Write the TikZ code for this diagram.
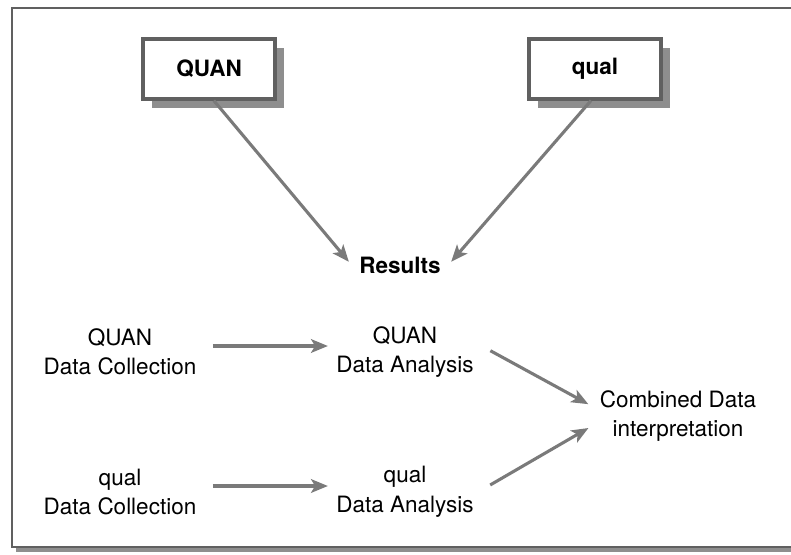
\documentclass[tikz,border=0pt]{standalone}
\usepackage{fontspec}
\setmainfont{TeX Gyre Heros}
\usetikzlibrary{arrows.meta,shadows}
\definecolor{framegray}{HTML}{606060}
\definecolor{shadegray}{HTML}{8E8E8E}
\definecolor{arrowgray}{HTML}{7A7A7A}
\begin{document}
\begin{tikzpicture}[x=0.025cm,y=-0.025cm,font=\fontsize{16}{21}\selectfont]
\tikzstyle{mixbox}=[rectangle,draw=framegray,line width=2.2pt,fill=white,minimum width=3.3cm,minimum height=1.5cm,font=\fontsize{16}{21}\selectfont\bfseries,drop shadow={shadow xshift=0.22cm,shadow yshift=-0.22cm,fill=shadegray,opacity=1}]
\tikzstyle{stage}=[align=center,inner sep=3pt]
\tikzstyle{arr}=[draw=arrowgray,line width=2.2pt,-{Stealth[length=0.42cm,width=0.34cm,inset=0.1cm,fill=arrowgray]}]
\useasboundingbox (0,0) rectangle (791,554);
% outer frame
\fill[shadegray] (16,12) rectangle (805,552);
\draw[framegray,line width=1.5pt,fill=white] (12,8) rectangle (800,547);

\node[mixbox](quan) at (209,69) {QUAN};
\node[mixbox](qual) at (595,69) {qual};
\node[stage,font=\fontsize{16}{21}\selectfont\bfseries](res) at (400,265) {Results};

\node[stage](qc) at (120,352) {QUAN\\Data Collection};
\node[stage](qa) at (405,352) {QUAN\\Data Analysis};
\node[stage](lc) at (120,492) {qual\\Data Collection};
\node[stage](la) at (405,492) {qual\\Data Analysis};
\node[stage](ci) at (678,416) {Combined Data\\interpretation};

\draw[arr] ([xshift=0.12cm]quan.south) -- ([xshift=-0.15cm,yshift=0.08cm]res.west);
\draw[arr] ([xshift=-0.1cm]qual.south) -- ([xshift=0.15cm,yshift=0.08cm]res.east);
\draw[arr,shorten <=0.3cm,shorten >=0.1cm] ([yshift=0.15cm]qc.east) -- ([yshift=0.15cm]qa.west);
\draw[arr,shorten <=0.3cm,shorten >=0.1cm] ([yshift=0.15cm]lc.east) -- ([yshift=0.15cm]la.west);
\draw[arr,shorten <=0.35cm,shorten >=0.2cm] ([yshift=0.2cm]qa.east) -- ([yshift=0.2cm]ci.west);
\draw[arr,shorten <=0.35cm,shorten >=0.2cm] (la.east) -- ([yshift=-0.2cm]ci.west);
\end{tikzpicture}
\end{document}
